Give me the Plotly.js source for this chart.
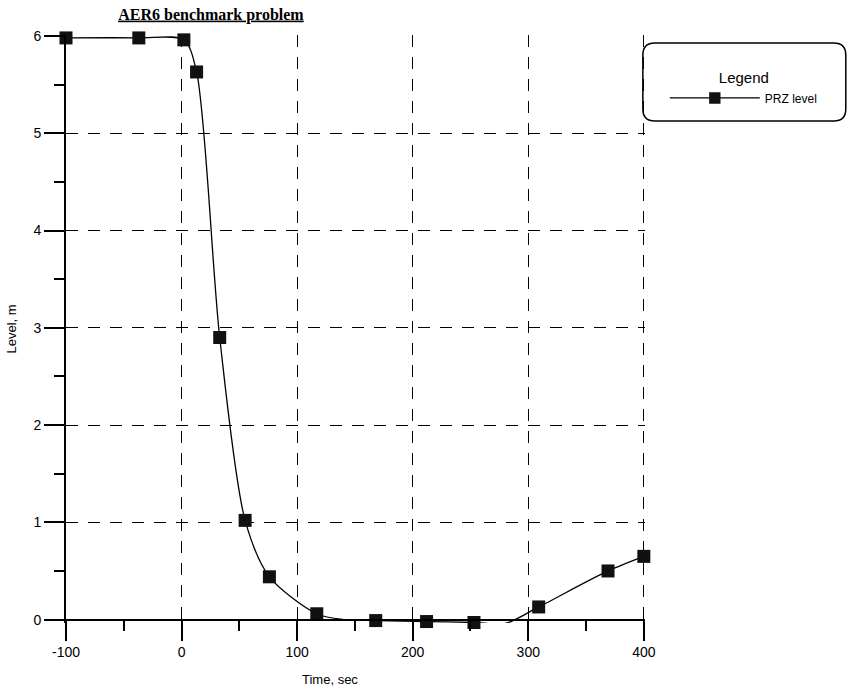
<!DOCTYPE html>
<html>
<head>
<meta charset="utf-8">
<script src="https://cdn.plot.ly/plotly-3.0.1.min.js"></script>
<style>html,body{margin:0;padding:0;background:#fff;}#chart{width:847px;height:690px;}</style>
</head>
<body>
<div id="chart"></div>
<script>
// Data (time in s, level in m)
var timeSec = [-100, -37, 2, 13, 33, 55, 76, 117, 140, 168, 212, 253, 280, 309, 369, 400];
var levelM  = [5.98, 5.98, 5.96, 5.63, 2.90, 1.02, 0.44, 0.06, 0.00, -0.01, -0.02, -0.03, -0.04, 0.13, 0.50, 0.65];
var hasMarker = [1, 1, 1, 1, 1, 1, 1, 1, 0, 1, 1, 1, 0, 1, 1, 1];
var xTicks = [-100, 0, 100, 200, 300, 400];
var yTicks = [0, 1, 2, 3, 4, 5, 6];
var seriesName = 'PRZ level';

var W = 847, H = 690;
// axis ranges (slightly padded so the edge grid lines and near-zero markers show)
var xMin = -100, xMax = 401, yMin = -0.035, yMax = 6.01;
// pixel frame: x=-100 -> 66px, x=400 -> 644px ; y=0 -> 620px, y=6 -> 36px
var xs = (644 - 66) / 500, ys = (620 - 36) / 6;
var L = 66 + (xMin + 100) * xs;
var plotRight = 66 + (xMax + 100) * xs;
var plotTop = 36 - (yMax - 6) * ys;
var plotBottom = 620 + (0 - yMin) * ys;
var R = W - plotRight, T = plotTop, B = H - plotBottom;
var pw = plotRight - L, ph = plotBottom - plotTop;
function px(xp){ return (xp - L) / pw; }
function py(yp){ return (plotBottom - yp) / ph; }

// rounded legend box
var x0 = px(643), x1 = px(846), yTop = py(43), yBot = py(121);
var rx = 12 / pw, ry = 12 / ph;
var boxPath = 'M' + (x0+rx) + ',' + yTop + ' L' + (x1-rx) + ',' + yTop +
  ' Q' + x1 + ',' + yTop + ' ' + x1 + ',' + (yTop-ry) +
  ' L' + x1 + ',' + (yBot+ry) + ' Q' + x1 + ',' + yBot + ' ' + (x1-rx) + ',' + yBot +
  ' L' + (x0+rx) + ',' + yBot + ' Q' + x0 + ',' + yBot + ' ' + x0 + ',' + (yBot+ry) +
  ' L' + x0 + ',' + (yTop-ry) + ' Q' + x0 + ',' + yTop + ' ' + (x0+rx) + ',' + yTop + ' Z';

var trace = {
  x: timeSec, y: levelM, name: seriesName,
  mode: 'lines+markers', type: 'scatter', cliponaxis: false,
  line: {color: '#000', width: 1.3, shape: 'spline', smoothing: 0.8},
  marker: {symbol: 'square', size: hasMarker.map(function(m){ return m ? 13 : 0; }),
           color: '#111', opacity: 1, line: {width: 0}}
};

var axisCommon = {
  showline: true, linecolor: '#000', linewidth: 2,
  ticks: 'outside', ticklen: 20, tickwidth: 2, tickcolor: '#000',
  showgrid: true, gridcolor: '#000', gridwidth: 1, griddash: '12px,10px',
  zeroline: false,
  tickfont: {family: 'Liberation Sans, Arial, sans-serif', size: 14, color: '#000'}
};

var layout = {
  width: W, height: H,
  margin: {l: L, r: R, t: T, b: B, pad: 0},
  paper_bgcolor: '#fff', plot_bgcolor: '#fff',
  showlegend: true,
  title: {text: '<b><u>AER6 benchmark problem</u></b>',
          font: {family: 'Liberation Serif, Times New Roman, serif', size: 16, color: '#000'},
          x: px(211), xref: 'paper', xanchor: 'center',
          y: 1 - 14 / H, yref: 'container', yanchor: 'middle'},
  xaxis: Object.assign({}, axisCommon, {
    range: [xMin, xMax], tickvals: xTicks, ticktext: xTicks.map(String),
    anchor: 'free', position: (0 - yMin) / (yMax - yMin),
    minor: {dtick: 50, tick0: 0, ticks: 'outside', ticklen: 10, tickwidth: 2, tickcolor: '#000', showgrid: false}
  }),
  yaxis: Object.assign({}, axisCommon, {
    range: [yMin, yMax], tickvals: yTicks, ticktext: yTicks.map(String),
    minor: {dtick: 0.5, tick0: 0, ticks: 'outside', ticklen: 10, tickwidth: 2, tickcolor: '#000', showgrid: false},
    title: {text: 'Level, m', standoff: 14,
            font: {family: 'Liberation Sans, Arial, sans-serif', size: 13, color: '#000'}}
  }),
  legend: {
    x: px(744), y: py(64), xref: 'paper', yref: 'paper', xanchor: 'center', yanchor: 'top',
    bgcolor: 'rgba(0,0,0,0)', borderwidth: 0, itemsizing: 'trace', itemwidth: 90,
    font: {family: 'Liberation Sans, Arial, sans-serif', size: 12, color: '#000'},
    title: {text: 'Legend', side: 'top center',
            font: {family: 'Liberation Sans, Arial, sans-serif', size: 15, color: '#000'}}
  },
  shapes: [{type: 'path', xref: 'paper', yref: 'paper', path: boxPath,
            line: {color: '#000', width: 1.5}, fillcolor: 'rgba(0,0,0,0)'}],
  annotations: [{text: 'Time, sec', xref: 'paper', yref: 'paper', x: px(330), y: py(680),
                 xanchor: 'center', yanchor: 'middle', showarrow: false,
                 font: {family: 'Liberation Sans, Arial, sans-serif', size: 13, color: '#000'}}]
};

Plotly.newPlot('chart', [trace], layout, {displayModeBar: false, staticPlot: true});
</script>
</body>
</html>
